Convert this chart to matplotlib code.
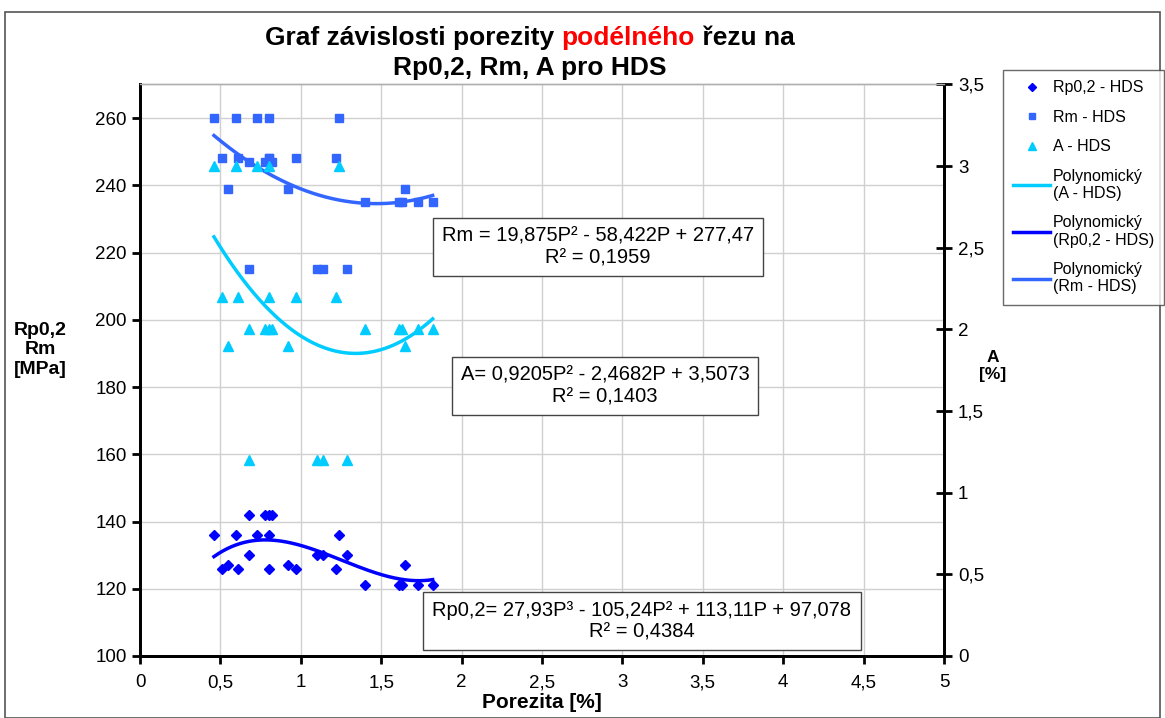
import numpy as np
import matplotlib
matplotlib.use("Agg")
import matplotlib.pyplot as plt
from matplotlib.ticker import FuncFormatter, MultipleLocator
from matplotlib.patches import Rectangle

plt.rcParams['font.family'] = ['Liberation Sans', 'DejaVu Sans']

# porosity [%] for each sample (shared by all three series)
porezita = [0.46, 0.60, 0.73, 0.80, 1.24,
            0.68, 1.10, 1.14, 1.29,
            0.55, 0.92, 1.65,
            0.51, 0.61, 0.80, 0.97, 1.22,
            1.40, 1.61, 1.63, 1.73, 1.82,
            0.68, 0.78, 0.80, 0.82]
rp02 = [136, 136, 136, 136, 136,
        130, 130, 130, 130,
        127, 127, 127,
        126, 126, 126, 126, 126,
        121, 121, 121, 121, 121,
        142, 142, 142, 142]
rm = [260, 260, 260, 260, 260,
      215, 215, 215, 215,
      239, 239, 239,
      248, 248, 248, 248, 248,
      235, 235, 235, 235, 235,
      247, 247, 248, 247]
a_val = [3.0, 3.0, 3.0, 3.0, 3.0,
         1.2, 1.2, 1.2, 1.2,
         1.9, 1.9, 1.9,
         2.2, 2.2, 2.2, 2.2, 2.2,
         2.0, 2.0, 2.0, 2.0, 2.0,
         2.0, 2.0, 2.0, 2.0]

# trend line coefficients as printed on the chart (highest power first)
coef_rp = [27.93, -105.24, 113.11, 97.078]
coef_rm = [19.875, -58.422, 277.47]
coef_a = [0.9205, -2.4682, 3.5073]

c_rp = "#0000FF"
c_rm = "#3366FF"
c_a = "#00CCFF"

W, H = 1165, 718
fig = plt.figure(figsize=(W / 100, H / 100), dpi=100)
fig.patches.append(Rectangle((5 / W, 0), 1155 / W, (H - 12) / H, transform=fig.transFigure,
                             fill=False, edgecolor="#555555", lw=1.2))

def px(x0, y0, x1, y1):
    return [x0 / W, 1 - y1 / H, (x1 - x0) / W, (y1 - y0) / H]

ax = fig.add_axes(px(140, 84.4, 944, 656))
ax2 = ax.twinx()

comma = FuncFormatter(lambda v, p: f"{v:g}".replace(".", ","))

ax.set_xlim(0, 5)
ax.set_ylim(100, 270)
ax.xaxis.set_major_locator(MultipleLocator(0.5))
ax.set_yticks(np.arange(100, 261, 20))
ax.xaxis.set_major_formatter(comma)
ax.grid(True, color="#d0d0d0", lw=1)
ax.set_axisbelow(True)
ax2.set_ylim(0, 3.5)
ax2.yaxis.set_major_locator(MultipleLocator(0.5))
ax2.yaxis.set_major_formatter(comma)

for a in (ax, ax2):
    for s in ("left", "bottom", "right"):
        a.spines[s].set_linewidth(2)
        a.spines[s].set_color("black")
    a.spines["top"].set_color("#b0b0b0")
    a.spines["top"].set_linewidth(1)
ax.tick_params(axis="both", labelsize=13.5, width=2, length=6, direction="out")
ax.tick_params(axis="x", pad=7)
ax2.tick_params(axis="y", labelsize=13.5, width=2, length=12, direction="inout", pad=4)

P = np.array(porezita)
xs = np.linspace(P.min(), P.max(), 200)

h_rp, = ax.plot(porezita, rp02, linestyle="none", marker="D", ms=5.5, color=c_rp, label="Rp0,2 - HDS")
h_rm, = ax.plot(porezita, rm, linestyle="none", marker="s", ms=6, color=c_rm, label="Rm - HDS")
h_a, = ax2.plot(porezita, a_val, linestyle="none", marker="^", ms=7.5, color=c_a, label="A - HDS")
l_a, = ax2.plot(xs, np.polyval(coef_a, xs), color=c_a, lw=2.5, label="Polynomický\n(A - HDS)")
l_rp, = ax.plot(xs, np.polyval(coef_rp, xs), color=c_rp, lw=2.5, label="Polynomický\n(Rp0,2 - HDS)")
l_rm, = ax.plot(xs, np.polyval(coef_rm, xs), color=c_rm, lw=2.5, label="Polynomický\n(Rm - HDS)")

box = dict(boxstyle="square,pad=0.45", fc="white", ec="#444444", lw=1)
fs_eq = 14.5
fig.text(598 / W, 1 - 247 / H, "Rm = 19,875P² - 58,422P + 277,47\nR² = 0,1959",
         ha="center", va="center", fontsize=fs_eq, linespacing=1.15, bbox=box)
fig.text(605 / W, 1 - 386 / H, "A= 0,9205P² - 2,4682P + 3,5073\nR² = 0,1403",
         ha="center", va="center", fontsize=fs_eq, linespacing=1.15, bbox=box)
fig.text(642 / W, 1 - 621 / H, "Rp0,2= 27,93P³ - 105,24P² + 113,11P + 97,078\nR² = 0,4384",
         ha="center", va="center", fontsize=fs_eq, linespacing=1.15, bbox=box)

fig.legend(handles=[h_rp, h_rm, h_a, l_a, l_rp, l_rm], loc="upper left",
           bbox_to_anchor=(1003 / W, 1 - 70 / H), borderaxespad=0, fontsize=11.5,
           frameon=True, fancybox=False, edgecolor="#444444", handlelength=2.3,
           handletextpad=0.15, labelspacing=0.9, borderpad=0.65, markerscale=0.8)

fig.text(40 / W, 1 - 350 / H, "Rp0,2\nRm\n[MPa]", ha="center", va="center",
         fontsize=14, fontweight="bold", linespacing=1.2)
fig.text(993 / W, 1 - 366 / H, "A\n[%]", ha="center", va="center",
         fontsize=12.5, fontweight="bold", linespacing=1.2)
fig.text(542 / W, 1 - 703 / H, "Porezita [%]", ha="center", va="center",
         fontsize=15, fontweight="bold")

# title with one red word
fs_t = 19
t1 = fig.text(530 / W, 1 - 38 / H, "Graf závislosti porezity podélného řezu na",
              ha="center", va="center", fontsize=fs_t, fontweight="bold")
fig.canvas.draw()
r = fig.canvas.get_renderer()
x = t1.get_window_extent(r).x0
t1.remove()
parts = [("Graf závislosti porezity ", "black"), ("podélného", "red"), (" řezu na", "black")]
for s, c in parts:
    t = fig.text(x / W, 1 - 38 / H, s, ha="left", va="center", fontsize=fs_t,
                 fontweight="bold", color=c)
    x = x + t.get_window_extent(r).width
fig.text(530 / W, 1 - 68 / H, "Rp0,2, Rm, A pro HDS", ha="center", va="center",
         fontsize=fs_t, fontweight="bold")

fig.savefig("out.png", dpi=100)
